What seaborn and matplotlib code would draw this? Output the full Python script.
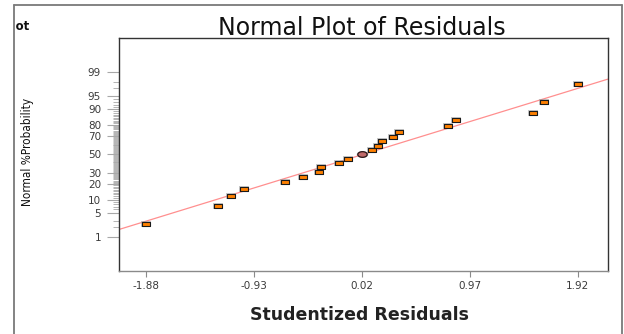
import matplotlib
matplotlib.use("Agg")
import numpy as np
import pandas as pd
import matplotlib.pyplot as plt
import seaborn as sns
from statistics import NormalDist
from matplotlib.lines import Line2D
from matplotlib.transforms import Bbox

# Studentized residuals, sorted, and their normal % probability positions
residuals = [-1.88, -1.25, -1.13, -1.02, -0.66, -0.50, -0.36, -0.34, -0.18, -0.10,
             0.02, 0.11, 0.16, 0.20, 0.29, 0.35, 0.78, 0.85, 1.53, 1.62, 1.92]
probabilities = [2.4, 7.1, 11.9, 16.7, 21.4, 26.2, 31.0, 35.7, 40.5, 45.2,
                 50.0, 54.8, 59.5, 64.3, 69.0, 73.8, 78.6, 83.3, 88.1, 92.9, 97.6]
highlighted = 10  # point drawn as a circle

x_tick_values = [-1.88, -0.93, 0.02, 0.97, 1.92]
y_major_pct = [1, 5, 10, 20, 30, 50, 70, 80, 90, 95, 99]
y_minor_pct = [2, 3] + [k for k in range(6, 95) if k not in y_major_pct] + [97, 98]

# reference line through the residuals
fit_mean, fit_sd = 0.03, 1.014

nd = NormalDist()


def probit(pct):
    return nd.inv_cdf(pct / 100.0)


W, H = 624, 334
sns.set_theme(style="white")
plt.rcParams["font.family"] = ["DejaVu Sans"]

fig = plt.figure(figsize=(W / 100, H / 100), dpi=100)
fig.patch.set_facecolor("white")
ax_l, ax_r, ax_t, ax_b = 119.3, 607.7, 38.3, 270.5
ax = fig.add_axes([ax_l / W, 1 - ax_b / H, (ax_r - ax_l) / W, (ax_b - ax_t) / H])
ax.set_facecolor("white")

x_lo, x_hi = -2.118, 2.185
ax.set_xlim(x_lo, x_hi)
ax.set_ylim(-3.28, 3.28)

pts = pd.DataFrame({"res": residuals, "z": [probit(p) for p in probabilities]})
squares = pts.drop(index=highlighted)
circle = pts.loc[[highlighted]]

line_df = pd.DataFrame({"x": [x_lo, x_hi]})
line_df["z"] = (line_df["x"] - fit_mean) / fit_sd
sns.lineplot(data=line_df, x="x", y="z", color="#ff8f8f", lw=0.9, ax=ax, zorder=2)

rect = [(-1, -0.58), (1, -0.58), (1, 0.58), (-1, 0.58), (-1, -0.58)]
t = np.linspace(0, 2 * np.pi, 41)
ellipse = list(zip(np.cos(t), 0.6 * np.sin(t)))

# soft gray halo under each marker
sns.scatterplot(data=squares, x="res", y="z", marker=rect, s=58, color="#9a9a9a",
                alpha=0.55, linewidth=0, ax=ax, zorder=3)
sns.scatterplot(data=circle, x="res", y="z", marker=ellipse, s=70, color="#9a9a9a",
                alpha=0.55, linewidth=0, ax=ax, zorder=3)
sns.scatterplot(data=squares, x="res", y="z", marker=rect, s=38, color="#ff8000",
                edgecolor="#1a1a1a", linewidth=0.8, ax=ax, zorder=4)
sns.scatterplot(data=circle, x="res", y="z", marker=ellipse, s=46, color="#c06a6a",
                edgecolor="#2a1515", linewidth=0.9, ax=ax, zorder=4)

ax.set_xlabel("")
ax.set_ylabel("")

ax.set_xticks(x_tick_values)
ax.set_xticklabels([f"{v:.2f}" for v in x_tick_values])
ax.set_yticks([probit(p) for p in y_major_pct])
ax.set_yticklabels([str(p) for p in y_major_pct])
ax.set_yticks([probit(p) for p in y_minor_pct], minor=True)

ax.tick_params(axis="x", which="major", bottom=True, direction="out", length=4.5,
               width=0.8, color="#8a8a8a", labelsize=7.5, labelcolor="#3a3a3a", pad=3)
ax.tick_params(axis="y", which="major", left=True, direction="out", length=8.6,
               width=0.8, color="#a8a8a8", labelsize=7.5, labelcolor="#3a3a3a", pad=4.5)
ax.tick_params(axis="y", which="minor", left=True, direction="out", length=4.0,
               width=0.6, color="#a8a8a8")

for side in ["left", "top", "right"]:
    ax.spines[side].set_color("#333333")
    ax.spines[side].set_linewidth(1.0)
ax.spines["bottom"].set_color("#8a8a8a")
ax.spines["bottom"].set_linewidth(1.0)

# titles and axis labels
fig.text(362 / W, 1 - 28 / H, "Normal Plot of Residuals", ha="center", va="center",
         fontsize=17, color="#111111")
fig.text(360 / W, 1 - 315 / H, "Studentized Residuals", ha="center", va="center",
         fontsize=12.5, fontweight="bold", color="#222222")
fig.text(27 / W, 1 - 152 / H, "Normal %Probability", rotation=90, ha="center",
         va="center", fontsize=8.5, color="#111111",
         family=["Liberation Sans Narrow", "DejaVu Sans"], fontstretch="condensed")

# side panel caption, cut off by the frame
fig.text(30 / W, 1 - 27 / H, "Plot", ha="right", va="center", fontsize=8.5,
         fontweight="bold", color="#111111",
         clip_on=True, clip_box=Bbox.from_extents(15, 0, W, H))

# outer frame
frame_kw = dict(color="#7a7a7a", lw=1.3, transform=fig.transFigure)
fig.add_artist(Line2D([14 / W, 14 / W], [0, 1 - 4.7 / H], **frame_kw))
fig.add_artist(Line2D([14 / W, 622 / W], [1 - 4.7 / H, 1 - 4.7 / H], **frame_kw))
fig.add_artist(Line2D([622 / W, 622 / W], [0, 1 - 4.7 / H], **frame_kw))

fig.savefig("out.png", dpi=100)
